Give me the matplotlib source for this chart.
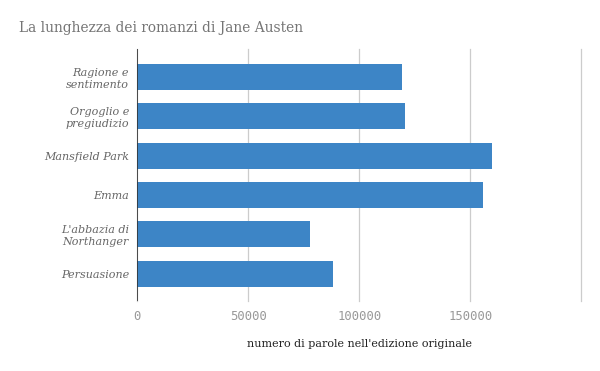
import matplotlib
matplotlib.use("Agg")
import matplotlib.pyplot as plt

titles = ["Ragione e\nsentimento", "Orgoglio e\npregiudizio", "Mansfield Park",
          "Emma", "L'abbazia di\nNorthanger", "Persuasione"]
words = [119394, 120697, 159640, 155887, 77601, 88200]
xticks = [0, 50000, 100000, 150000]
xgrid = [0, 50000, 100000, 150000, 200000]

fig = plt.figure(figsize=(6, 3.71), dpi=100)
ax = fig.add_axes([137.3/600, 1-300.7/371, 444/600, (300.7-49)/371])

pos = list(range(len(titles)))
ax.barh(pos, words, height=0.66, color="#3d85c6", zorder=3)
ax.set_xlim(0, 200000)
ax.set_ylim(5.69, -0.71)

for g in xgrid:
    ax.axvline(g, color="#cccccc", lw=0.9, zorder=1, clip_on=False)
ax.axvline(0, color="#333333", lw=1.2, zorder=4)

for s in ax.spines.values():
    s.set_visible(False)

ax.set_yticks(pos)
ax.set_yticklabels(titles, family="DejaVu Serif", style="italic",
                   fontsize=8, color="#666666", linespacing=1.25)
ax.tick_params(axis="y", length=0, pad=6)
ax.set_xticks(xticks)
ax.set_xticklabels([str(t) for t in xticks], family="DejaVu Sans Mono",
                   fontsize=8.8, color="#999999")
ax.tick_params(axis="x", length=0, pad=7)

fig.text(19/600, 1-28/371, "La lunghezza dei romanzi di Jane Austen",
         family="DejaVu Serif", fontsize=9.9, color="#757575",
         ha="left", va="center")
fig.text(359/600, 1-344/371, "numero di parole nell'edizione originale",
         family="DejaVu Serif", fontsize=8, color="#222222",
         ha="center", va="center")

fig.savefig("out.png", dpi=100)
